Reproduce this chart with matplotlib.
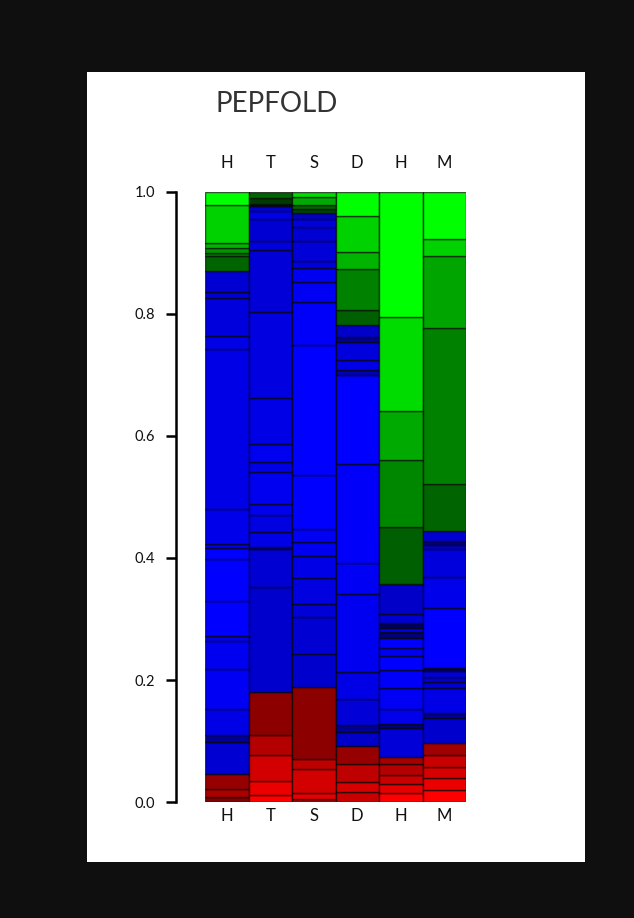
import matplotlib
matplotlib.use('Agg')
import matplotlib.pyplot as plt
from matplotlib.patches import Rectangle

plt.rcParams['font.family'] = ['Lato', 'DejaVu Sans']

# column labels (same on top and bottom)
columns = ['H', 'T', 'S', 'D', 'H', 'M']

# cumulative segment edges per column, bottom -> top
edges_h = [0, .008, .021, .046, .098, .110, .152, .218, .264, .272, .330, .398,
           .416, .423, .480, .743, .764, .826, .836, .870, .895, .900, .908,
           .916, .979, 1.0]
edges_t = [0, .011, .034, .077, .110, .180, .352, .415, .418, .443, .470, .489,
           .541, .557, .587, .662, .803, .905, .920, .956, .969, .977, .980,
           .990, 1.0]
edges_s = [0, .005, .015, .054, .070, .189, .243, .303, .325, .367, .403, .426,
           .448, .536, .749, .820, .852, .875, .887, .920, .943, .956, .966,
           .972, .979, .992, 1.0]
edges_d = [0, .016, .033, .062, .092, .115, .126, .169, .213, .341, .392, .554,
           .700, .708, .725, .754, .762, .782, .807, .874, .902, .961, 1.0]
edges_h2 = [0, .015, .030, .044, .062, .074, .121, .128, .152, .187, .216, .239,
            .252, .269, .279, .285, .293, .308, .357, .451, .561, .641, .795, 1.0]
edges_m = [0, .020, .039, .057, .077, .097, .138, .146, .187, .197, .205, .215,
           .220, .318, .369, .415, .421, .428, .444, .521, .777, .895, .923, 1.0]

# shade of each segment: channel letter + intensity (0-255)
shades_h = ['r130', 'r170', 'r150', 'b210', 'b150', 'b230', 'b245', 'b240', 'b235',
            'b255', 'b255', 'b255', 'b240', 'b235', 'b230', 'b230', 'b220', 'b210',
            'b210', 'g100', 'g120', 'g150', 'g180', 'g210', 'g255']
shades_t = ['r255', 'r235', 'r210', 'r180', 'r140', 'b205', 'b210', 'b130', 'b230',
            'b225', 'b235', 'b240', 'b230', 'b240', 'b230', 'b225', 'b215', 'b220',
            'b210', 'b230', 'b200', 'b120', 'g60', 'g100']
shades_s = ['r180', 'r230', 'r210', 'r190', 'r140', 'b205', 'b210', 'b215', 'b225',
            'b230', 'b240', 'b245', 'b255', 'b255', 'b250', 'b245', 'b240', 'b220',
            'b215', 'b210', 'b220', 'b190', 'g70', 'g100', 'g170', 'g220']
shades_d = ['r200', 'r215', 'r190', 'r150', 'b200', 'b150', 'b215', 'b230', 'b240',
            'b245', 'b250', 'b255', 'b180', 'b230', 'b220', 'b150', 'b200', 'g95',
            'g130', 'g180', 'g210', 'g255']
shades_h2 = ['r255', 'r230', 'r200', 'r180', 'r165', 'b215', 'b130', 'b235', 'b245',
             'b250', 'b255', 'b240', 'b255', 'b120', 'b230', 'b100', 'b210', 'b200',
             'g95', 'g135', 'g170', 'g220', 'g255']
shades_m = ['r255', 'r235', 'r215', 'r200', 'r160', 'b205', 'b150', 'b230', 'b210',
            'b200', 'b220', 'b100', 'b255', 'b235', 'b220', 'b200', 'b120', 'b210',
            'g100', 'g130', 'g165', 'g210', 'g255']

all_edges = [edges_h, edges_t, edges_s, edges_d, edges_h2, edges_m]
all_shades = [shades_h, shades_t, shades_s, shades_d, shades_h2, shades_m]


def shade_to_rgb(code):
    v = int(code[1:]) / 255.0
    return {'r': (v, 0, 0), 'g': (0, v, 0), 'b': (0, 0, v)}[code[0]]


fig = plt.figure(figsize=(6.34, 9.18), dpi=100, facecolor='#0f0f0f')
fig.patches.append(Rectangle((87 / 634, 1 - 862 / 918), 498 / 634, 790 / 918,
                             transform=fig.transFigure, facecolor='white',
                             edgecolor='none', zorder=-10))

ax = fig.add_axes([205 / 634, 1 - 802 / 918, 261 / 634, 610 / 918])
ax.set_facecolor('none')

for i, (edges, shades) in enumerate(zip(all_edges, all_shades)):
    for lo, hi, sh in zip(edges[:-1], edges[1:], shades):
        ax.bar(i, hi - lo, bottom=lo, width=1.0, color=shade_to_rgb(sh),
               edgecolor=(0, 0, 0, 0.65), linewidth=1.0)

ax.set_xlim(-0.5, len(columns) - 0.5)
ax.set_ylim(0, 1)

for s in ['top', 'right', 'bottom']:
    ax.spines[s].set_visible(False)
ax.spines['left'].set_position(('outward', 21))
ax.spines['left'].set_linewidth(1.8)
ax.spines['left'].set_bounds(0, 1)

ax.set_yticks([0, 0.2, 0.4, 0.6, 0.8, 1.0])
ax.set_yticklabels(['0.0', '0.2', '0.4', '0.6', '0.8', '1.0'])
ax.tick_params(axis='y', length=7, width=1.8, pad=8, labelsize=10.5,
               labelcolor='#111111')

ax.set_xticks(range(len(columns)))
ax.set_xticklabels(columns, fontsize=12)
ax.tick_params(axis='x', length=0, pad=4, labelcolor='#111111')

top = ax.secondary_xaxis('top')
top.set_xticks(range(len(columns)))
top.set_xticklabels(columns, fontsize=12)
top.tick_params(axis='x', length=0, pad=15, labelcolor='#111111')
top.spines['top'].set_visible(False)

fig.text(215 / 634, 1 - 104 / 918, 'PEPFOLD', ha='left', va='center',
         fontsize=20, color='#333333')

fig.savefig('out.png', dpi=100, facecolor=fig.get_facecolor())
